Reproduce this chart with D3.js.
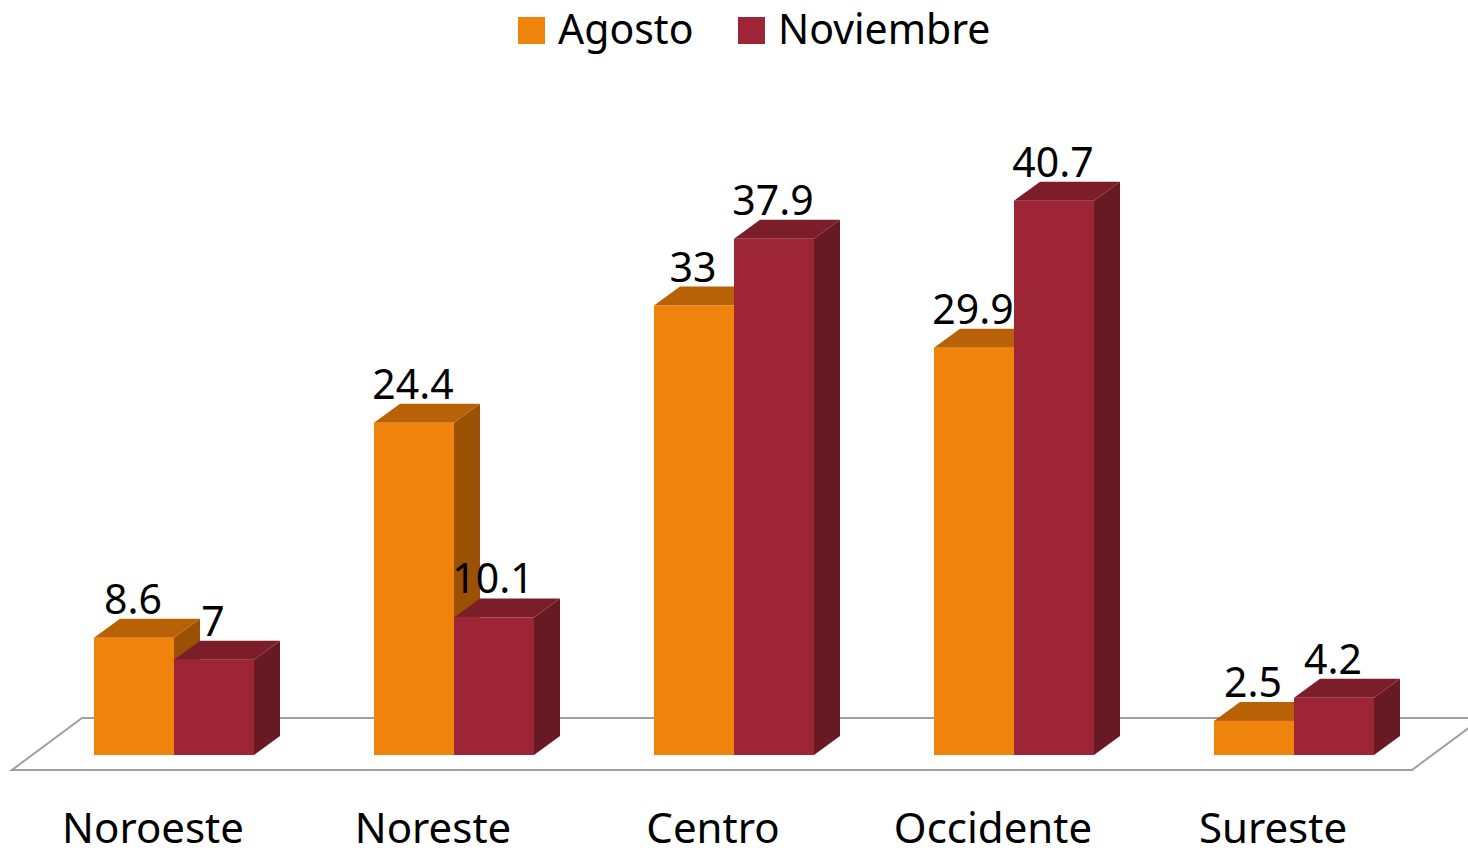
<!DOCTYPE html>
<html>
<head>
<meta charset="utf-8">
<script src="https://cdn.jsdelivr.net/npm/d3@7"></script>
<style>
  body { margin: 0; background: #fff; }
  text { font-family: "Noto Sans", "Open Sans", sans-serif; fill: #000; }
</style>
</head>
<body>
<div id="chart"></div>
<script>
// data
const regions = ['Noroeste', 'Noreste', 'Centro', 'Occidente', 'Sureste'];
const seriesNames = ['Agosto', 'Noviembre'];
const agosto = [8.6, 24.4, 33, 29.9, 2.5];
const noviembre = [7, 10.1, 37.9, 40.7, 4.2];

const colors = {
	Agosto: { front: '#f0830b', top: '#b86106', side: '#9a5104' },
	Noviembre: { front: '#9e2536', top: '#7b1e2a', side: '#671a24' },
};

const width = 1468;
const height = 851;
const depthX = 26;
const depthY = 19;

const svg = d3.select('#chart').append('svg').attr('width', width).attr('height', height);

const x0 = d3.scaleBand().domain(regions).range([34, 1434]).paddingInner(0.4286).paddingOuter(0.2143);
const x1 = d3.scaleBand().domain(seriesNames).range([0, x0.bandwidth()]);
const y = d3.scaleLinear().domain([0, 50]).range([755, 74]);

// floor
const floorFront = y(0) + 15;
const floorBack = floorFront - 52;
svg.append('polygon')
	.attr('points', [
		[12, floorFront],
		[1412, floorFront],
		[1412 + 70, floorBack],
		[12 + 70, floorBack],
	].join(' '))
	.attr('fill', '#fff')
	.attr('stroke', '#a0a0a0')
	.attr('stroke-width', 2);

const rows = regions.map((r, i) => ({
	region: r,
	values: [
		{ series: 'Agosto', value: agosto[i] },
		{ series: 'Noviembre', value: noviembre[i] },
	],
}));

const groups = svg.selectAll('g.group')
	.data(rows)
	.enter()
	.append('g')
	.attr('class', 'group')
	.attr('transform', (d) => 'translate(' + x0(d.region) + ',0)');

const bars = groups.selectAll('g.bar')
	.data((d) => d.values)
	.enter()
	.append('g')
	.attr('class', 'bar');

// side face
bars.append('polygon')
	.attr('points', (d) => {
		const xr = x1(d.series) + x1.bandwidth();
		return [[xr, y(d.value)], [xr + depthX, y(d.value) - depthY], [xr + depthX, y(0) - depthY], [xr, y(0)]].join(' ');
	})
	.attr('fill', (d) => colors[d.series].side);

// top face
bars.append('polygon')
	.attr('points', (d) => {
		const xl = x1(d.series);
		const xr = xl + x1.bandwidth();
		const yt = y(d.value);
		return [[xl, yt], [xl + depthX, yt - depthY], [xr + depthX, yt - depthY], [xr, yt]].join(' ');
	})
	.attr('fill', (d) => colors[d.series].top);

// front face
bars.append('rect')
	.attr('x', (d) => x1(d.series))
	.attr('y', (d) => y(d.value))
	.attr('width', x1.bandwidth())
	.attr('height', (d) => y(0) - y(d.value))
	.attr('fill', (d) => colors[d.series].front);

// value labels
groups.selectAll('text.value')
	.data((d) => d.values)
	.enter()
	.append('text')
	.attr('class', 'value')
	.attr('x', (d) => x1(d.series) + x1.bandwidth() / 2 - 1)
	.attr('y', (d) => y(d.value) - 24)
	.attr('text-anchor', 'middle')
	.style('font-size', '41px')
	.text((d) => d.value);

// category labels
svg.selectAll('text.cat')
	.data(regions)
	.enter()
	.append('text')
	.attr('class', 'cat')
	.attr('x', (d) => x0(d) + x0.bandwidth() / 2 - 21)
	.attr('y', 843)
	.attr('text-anchor', 'middle')
	.style('font-size', '42px')
	.text((d) => d);

// legend
const legendX = [518, 738];
const legend = svg.selectAll('g.legend')
	.data(seriesNames)
	.enter()
	.append('g')
	.attr('class', 'legend')
	.attr('transform', (d, i) => 'translate(' + legendX[i] + ',17)');
legend.append('rect').attr('width', 27).attr('height', 27).attr('fill', (d) => colors[d].front);
legend.append('text').attr('x', 40).attr('y', 27).style('font-size', '41px').text((d) => d);
</script>
</body>
</html>
